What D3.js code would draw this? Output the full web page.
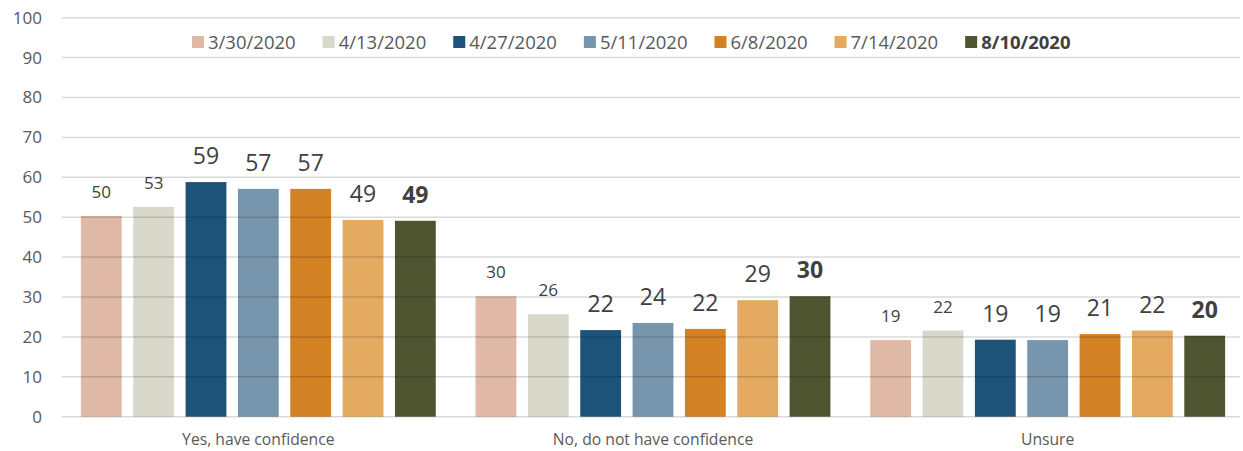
<!DOCTYPE html>
<html>
<head>
<meta charset="utf-8">
<script src="https://cdn.jsdelivr.net/npm/d3@7"></script>
<style>
  body { margin: 0; background: #fff; }
  svg { display: block; font-family: "Open Sans", sans-serif; }
</style>
</head>
<body>
<div class="chart"></div>
<script>
const categories = ["Yes, have confidence", "No, do not have confidence", "Unsure"];
const dates = ["3/30/2020", "4/13/2020", "4/27/2020", "5/11/2020", "6/8/2020", "7/14/2020", "8/10/2020"];
const colors = ["#DFB9A6", "#D8D9CB", "#1D5279", "#7895AE", "#D38125", "#E4AA62", "#4E5530"];
// one array per survey date: [yes, no, unsure]
const values = [
    [50.3, 30.2, 19.2],
    [52.6, 25.7, 21.6],
    [58.8, 21.7, 19.3],
    [57.1, 23.5, 19.2],
    [57.1, 22.0, 20.7],
    [49.3, 29.2, 21.6],
    [49.1, 30.2, 20.3]
];
const yTicks = [0, 10, 20, 30, 40, 50, 60, 70, 80, 90, 100];

const width = 1243, height = 451;
const svg = d3.select(".chart")
    .append("svg")
    .attr("width", width)
    .attr("height", height);

const xScale = d3.scaleBand()
    .domain(categories)
    .range([61, 1245])
    .padding(0);

const xInner = d3.scaleBand()
    .domain(dates)
    .range([0, xScale.bandwidth()])
    .paddingInner(0.22)
    .paddingOuter(0.38);

const yScale = d3.scaleLinear()
    .domain([0, 100])
    .range([416.7, 17.7]);

const rows = [];
dates.forEach((d, i) => {
    categories.forEach((c, j) => {
        rows.push({ date: d, cat: c, value: values[i][j], idx: i });
    });
});

// bars
svg.append("g")
    .selectAll("rect")
    .data(rows)
    .join("rect")
        .attr("x", d => xScale(d.cat) + xInner(d.date))
        .attr("y", d => yScale(d.value))
        .attr("width", xInner.bandwidth())
        .attr("height", d => yScale(0) - yScale(d.value))
        .attr("fill", d => colors[d.idx]);

// gridlines (drawn over the bars, translucent)
svg.append("g")
    .selectAll("line")
    .data(yTicks)
    .join("line")
        .attr("x1", 62)
        .attr("x2", 1240)
        .attr("y1", d => yScale(d))
        .attr("y2", d => yScale(d))
        .attr("stroke", "rgba(0,0,0,0.15)")
        .attr("stroke-width", 1.5);

// y tick labels
svg.append("g")
    .selectAll("text")
    .data(yTicks)
    .join("text")
        .text(d => d)
        .attr("x", 42)
        .attr("y", d => yScale(d))
        .attr("dy", "0.35em")
        .attr("text-anchor", "end")
        .attr("fill", "#595959")
        .attr("font-size", "17px");

// value labels
const fmt = d3.format(".0f");
svg.append("g")
    .selectAll("text")
    .data(rows)
    .join("text")
        .text(d => fmt(d.value))
        .attr("x", d => xScale(d.cat) + xInner(d.date) + xInner.bandwidth() / 2)
        .attr("y", d => yScale(d.value) - 18)
        .attr("text-anchor", "middle")
        .attr("fill", "#404040")
        .attr("font-size", d => d.idx < 2 ? "17px" : "23px")
        .attr("font-weight", d => d.idx === 6 ? "bold" : "normal");

// category labels
svg.append("g")
    .selectAll("text")
    .data(categories)
    .join("text")
        .text(d => d)
        .attr("x", d => xScale(d) + xScale.bandwidth() / 2)
        .attr("y", 445)
        .attr("text-anchor", "middle")
        .attr("fill", "#595959")
        .attr("font-size", "15.7px");

// legend
const legend = svg.append("g");
let lx = 192;
dates.forEach((d, i) => {
    legend.append("rect")
        .attr("x", lx)
        .attr("y", 36)
        .attr("width", 12)
        .attr("height", 12)
        .attr("fill", colors[i]);
    const t = legend.append("text")
        .text(d)
        .attr("x", lx + 16)
        .attr("y", 48.5)
        .attr("fill", i === 6 ? "#404040" : "#595959")
        .attr("font-size", "18.5px")
        .attr("font-weight", i === 6 ? "bold" : "normal");
    lx += 16 + t.node().getComputedTextLength() + 27;
});
</script>
</body>
</html>
